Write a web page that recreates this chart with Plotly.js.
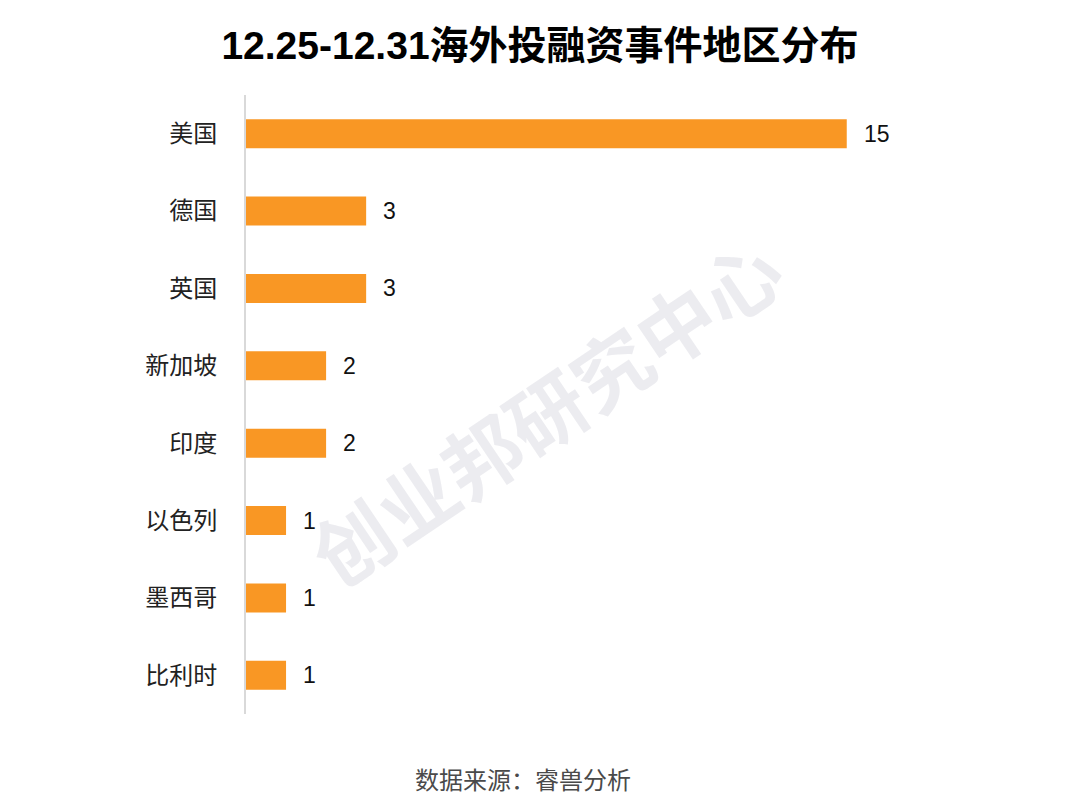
<!DOCTYPE html>
<html>
<head>
<meta charset="utf-8">
<script src="https://cdn.plot.ly/plotly-3.0.1.min.js"></script>
<style>html,body{margin:0;padding:0;background:#fff;}#chart{width:1080px;height:803px;}</style>
</head>
<body>
<div id="chart"></div>
<script>
const categories = ["美国", "德国", "英国", "新加坡", "印度", "以色列", "墨西哥", "比利时"];
const values = [15, 3, 3, 2, 2, 1, 1, 1];
const titleText = "12.25-12.31海外投融资事件地区分布";
const sourceText = "数据来源：睿兽分析";
const watermarkText = "创业邦研究中心";

const cjk = "'Liberation Sans', Arial, 'Noto Sans CJK SC', sans-serif";

const valueAnnotations = categories.map((c, i) => ({
  x: values[i], y: c, xref: 'x', yref: 'y',
  text: String(values[i]), showarrow: false,
  xanchor: 'left', yanchor: 'middle', xshift: 15,
  font: {family: cjk, size: 23, color: '#111'}
}));

const trace = {
  type: 'bar', orientation: 'h',
  x: values, y: categories,
  marker: {color: '#F99724'},
  width: 0.375,
  hoverinfo: 'none'
};

const layout = {
  width: 1080, height: 803,
  margin: {l: 246, r: 33, t: 95, b: 89},
  paper_bgcolor: '#fff', plot_bgcolor: '#fff',
  showlegend: false,
  title: {text: '<b>' + titleText + '</b>', x: 0.5, xanchor: 'center', y: 0.943, yanchor: 'middle',
          font: {family: cjk, size: 39, color: '#000'}},
  xaxis: {range: [0, 20], visible: false, fixedrange: true},
  yaxis: {
    autorange: false, range: [7.5, -0.5],
    type: 'category',
    showgrid: false, zeroline: false,
    showline: true, linecolor: '#d9d9d9', linewidth: 2,
    ticks: '', ticklabelstandoff: 22,
    tickfont: {family: cjk, size: 24, color: '#222'}
  },
  annotations: valueAnnotations.concat([
    {xref: 'paper', yref: 'paper', x: 0.373, y: 0.491, text: '<b>' + watermarkText + '</b>',
     showarrow: false, textangle: -34, xanchor: 'center', yanchor: 'middle',
     font: {family: "'Noto Sans CJK SC', sans-serif", size: 78, color: 'rgba(205,205,215,0.38)'}},
    {xref: 'paper', yref: 'paper', x: (523 - 246) / 801, y: 0, yshift: -64,
     text: sourceText, showarrow: false, xanchor: 'center', yanchor: 'middle',
     font: {family: "'Noto Sans CJK SC', sans-serif", size: 24, color: '#4a4a4a'}}
  ])
};

Plotly.newPlot('chart', [trace], layout, {staticPlot: true, displayModeBar: false});
</script>
</body>
</html>
